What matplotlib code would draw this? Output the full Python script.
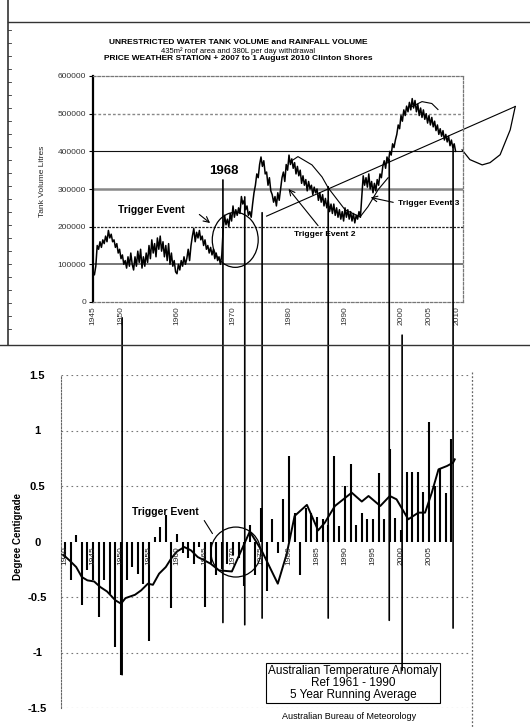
import numpy as np
import matplotlib.pyplot as plt
from matplotlib.patches import Ellipse, ConnectionPatch
from matplotlib.lines import Line2D

plt.rcParams['font.family'] = ['Liberation Sans', 'DejaVu Sans']

W, H = 530, 727

# tank volume in thousands of litres, four readings a year from 1945
tank_volume = [
    80, 72, 95, 150,     # 1945
    140, 160, 145, 165,
    155, 175, 160, 190,
    170, 180, 160, 165,
    145, 155, 130, 140,
    115, 125, 100, 110,  # 1950
    90, 120, 95, 130,
    100, 85, 120, 95,
    135, 105, 140, 90,
    120, 95, 130, 105,
    150, 115, 165, 130,  # 1955
    155, 120, 170, 140,
    175, 135, 160, 120,
    150, 110, 155, 100,
    130, 95, 110, 80,
    75, 100, 85, 110,    # 1960
    95, 120, 100, 115,
    140, 110, 150, 175,
    195, 160, 185, 170,
    190, 165, 175, 150,
    165, 140, 150, 130,  # 1965
    145, 125, 140, 115,
    130, 110, 120, 100,
    125, 195, 230, 205,
    220, 200, 235, 215,
    255, 225, 245, 230,  # 1970
    250, 235, 280, 260,
    270, 245, 255, 230,
    240, 225, 260, 290,
    310, 340, 330, 365,
    385, 360, 375, 340,  # 1975
    345, 310, 330, 295,
    285, 265, 280, 255,
    290, 270, 300, 330,
    345, 320, 365, 350,
    390, 365, 380, 355,  # 1980
    370, 340, 360, 335,
    350, 315, 335, 310,
    325, 295, 320, 300,
    310, 285, 305, 290,
    300, 270, 290, 265,  # 1985
    285, 255, 275, 250,
    270, 240, 260, 235,
    260, 230, 250, 225,
    245, 220, 240, 215,
    250, 225, 245, 220,  # 1990
    240, 215, 235, 210,
    230, 220, 240, 225,
    280, 335, 310, 330,
    305, 340, 300, 320,
    290, 315, 295, 325,  # 1995
    310, 340, 330, 360,
    375, 355, 385, 370,
    400, 390, 420, 410,
    430, 445, 470, 460,
    495, 480, 510, 495,  # 2000
    520, 505, 530, 510,
    540, 515, 535, 505,
    525, 495, 515, 490,
    510, 485, 500, 475,
    495, 470, 490, 465,  # 2005
    480, 455, 470, 445,
    460, 440, 455, 430,
    445, 425, 440, 415,
    430, 410, 420, 400,
]
tank_years = 1945 + np.arange(len(tank_volume)) * 0.25

# freehand curves sketched over the tank series (year, thousands of litres)
arc_top_years = [1980.2, 1981.6, 1984.1, 1985.9, 1987.0]
arc_top_vol = [372, 386, 364, 332, 303]
arc_low_years = [1987.0, 1990.0, 1992.7, 1994.1, 1995.9, 1997.7]
arc_low_vol = [303, 245, 226, 253, 298, 330]
arc_peak_years = [2002.0, 2003.75, 2005.5, 2006.6]
arc_peak_vol = [519, 532, 527, 511]
forecast_years = [2010.9, 2012.3, 2014.5, 2015.9, 2017.7, 2019.5, 2020.4]
forecast_vol = [404, 378, 364, 370, 391, 457, 519]
trend_years = [1976.0, 2020.4]
trend_vol = [228, 519]

top_xticks = [1945, 1950, 1960, 1970, 1980, 1990, 2000, 2005, 2010]

# annual temperature anomaly, degrees C, 1940-2009
anom_years = list(range(1940, 2010))
anomaly = [
    -0.15, -0.35, 0.06, -0.57, -0.26, -0.35, -0.68, -0.35, -0.47, -0.95,
    -1.20, -0.35, -0.23, -0.29, -0.38, -0.90, 0.04, 0.13, 0.24, -0.60,
    0.07, -0.10, -0.15, -0.20, -0.05, -0.59, -0.20, -0.30, -0.25, -0.20,
    -0.12, -0.15, -0.40, 0.15, -0.30, 0.30, -0.45, 0.20, -0.10, 0.38,
    0.77, 0.26, -0.30, 0.30, 0.26, 0.22, 0.20, 0.15, 0.77, 0.14,
    0.50, 0.70, 0.15, 0.26, 0.20, 0.20, 0.62, 0.20, 0.83, 0.21,
    0.10, 0.63, 0.63, 0.63, 0.45, 1.08, 0.50, 0.65, 0.44, 0.92,
]

# five year running average
avg_years = [1939.7, 1940.8, 1942, 1943, 1944, 1945.2, 1946.3, 1947.5, 1949,
             1950, 1950.8, 1952.5, 1953.6, 1954.8, 1955.7, 1956.8, 1958, 1959,
             1960, 1961.3, 1962.5, 1963.7, 1964.9, 1966, 1967.5, 1969.8, 1973,
             1975.1, 1978, 1979.6, 1981, 1983.2, 1985.2, 1986.4, 1988.2, 1991.2,
             1993, 1994.2, 1996.3, 1998, 1999.2, 2001.3, 2003.1, 2004.3, 2005.5,
             2006.7, 2008.2, 2009.3, 2009.6]
avg_anom = [-0.12, -0.17, -0.23, -0.32, -0.35, -0.36, -0.41, -0.45, -0.53,
            -0.56, -0.51, -0.48, -0.44, -0.38, -0.39, -0.29, -0.23, -0.15,
            -0.09, -0.05, -0.08, -0.14, -0.17, -0.20, -0.26, -0.27, 0.09,
            -0.08, -0.38, -0.11, 0.23, 0.33, 0.10, 0.17, 0.32, 0.44,
            0.36, 0.41, 0.32, 0.41, 0.38, 0.20, 0.26, 0.26, 0.44,
            0.65, 0.68, 0.71, 0.74]
bottom_label_years = list(range(1940, 2006, 5))

# lines tying events in the tank record to the temperature record
link_years = [1950.2, 1968.2, 1972.1, 1975.2, 1987.0, 1997.9, 2000.2, 2009.3]
link_tank = [-42, 324, 279, 237, 306, 378, -88, 412]
link_anom = [-1.20, -0.73, -0.75, -0.69, -0.69, -0.71, -1.16, -0.78]


def px_box(x0, x1, y0, y1):
    return [x0 / W, 1 - y1 / H, (x1 - x0) / W, (y1 - y0) / H]


def fig_line(xs, ys, **kw):
    fig.add_artist(Line2D([x / W for x in xs], [1 - y / H for y in ys],
                          transform=fig.transFigure, **kw))


fig = plt.figure(figsize=(W / 100, H / 100), dpi=100)

# ---- tank volume panel ----
ax1 = fig.add_axes(px_box(93, 463, 76, 302))
ax1.set_xlim(1945, 1945 + (463 - 93) / 5.6)
ax1.set_ylim(0, 600000)

grid_styles = {
    100000: dict(color='#777777', lw=1.4, ls='-'),
    200000: dict(color='#222222', lw=0.9, ls=(0, (2, 1))),
    300000: dict(color='#888888', lw=1.8, ls='-'),
    400000: dict(color='#111111', lw=0.8, ls='-'),
    500000: dict(color='#888888', lw=1.0, ls=(0, (2, 1.5))),
}
for yv, st in grid_styles.items():
    ax1.axhline(yv, zorder=1, **st)

ax1.plot(tank_years, np.array(tank_volume) * 1000, color='black', lw=1.1, zorder=3)
ax1.plot(arc_top_years, np.array(arc_top_vol) * 1000, color='black', lw=0.8)
ax1.plot(arc_low_years, np.array(arc_low_vol) * 1000, color='black', lw=0.8)
ax1.plot(arc_peak_years, np.array(arc_peak_vol) * 1000, color='black', lw=0.8)
ax1.plot(forecast_years, np.array(forecast_vol) * 1000, color='black', lw=0.9,
         clip_on=False)
ax1.plot(trend_years, np.array(trend_vol) * 1000, color='black', lw=0.8,
         clip_on=False)
ax1.add_patch(Ellipse((1970.4, 165000), 8.2, 146000, fill=False, lw=0.9,
                      color='black', zorder=4))

for side in ['top', 'right', 'bottom']:
    ax1.spines[side].set_linestyle((0, (2, 1.5)))
    ax1.spines[side].set_color('#777777')
    ax1.spines[side].set_linewidth(0.9)
ax1.spines['left'].set_linewidth(1.6)

ax1.set_yticks(range(0, 600001, 100000))
ax1.set_yticklabels([str(v) for v in range(0, 600001, 100000)],
                    fontsize=6, color='#333333')
ax1.set_xticks(top_xticks)
ax1.set_xticklabels([str(y) for y in top_xticks], rotation=90, fontsize=6,
                    color='#333333')
ax1.tick_params(axis='y', length=3, width=0.8, pad=2)
ax1.tick_params(axis='x', length=0, pad=3)

ax1.text(1955.4, 245000, 'Trigger Event', fontsize=7.5, fontweight='bold',
         ha='center', va='center')
ax1.annotate('', xy=(1966.3, 205000), xytext=(1963.6, 237000),
             arrowprops=dict(arrowstyle='->', lw=0.8, color='black'))
ax1.text(1968.4, 348000, '1968', fontsize=9.5, fontweight='bold',
         ha='center', va='center')
ax1.text(1986.3, 178000, 'Trigger Event 2', fontsize=6, fontweight='bold',
         ha='center', va='center')
ax1.annotate('', xy=(1979.6, 306000), xytext=(1985.5, 197000),
             arrowprops=dict(arrowstyle='->', lw=0.8, color='black'))
ax1.text(1999.5, 261000, 'Trigger Event 3', fontsize=6, fontweight='bold',
         ha='left', va='center')
ax1.annotate('', xy=(1994.1, 279000), xytext=(1999.1, 263000),
             arrowprops=dict(arrowstyle='->', lw=0.8, color='black'))

fig.text(238 / W, 1 - 43 / H,
         'UNRESTRICTED WATER TANK VOLUME and RAINFALL VOLUME',
         fontsize=6, fontweight='bold', ha='center', va='center')
fig.text(238 / W, 1 - 51 / H,
         '435m\u00b2 roof area and 380L per day withdrawal',
         fontsize=5.5, ha='center', va='center')
fig.text(238 / W, 1 - 59 / H,
         'PRICE WEATHER STATION + 2007 to 1 August 2010 Clinton Shores',
         fontsize=6, fontweight='bold', ha='center', va='center')
fig.text(43 / W, 1 - 181 / H, 'Tank Volume Litres', rotation=90, fontsize=6,
         ha='center', va='center', color='#222222')

# ---- temperature anomaly panel ----
ax2 = fig.add_axes(px_box(61, 470, 375, 708))
ax2.set_xlim(1945 + (61 - 93) / 5.6, 1945 + (470 - 93) / 5.6)
ax2.set_ylim(-1.5, 1.5)

for yv in [1.5, 1.0, 0.5, -0.5, -1.0, -1.5]:
    ax2.axhline(yv, color='#777777', lw=0.8, ls=(0, (1.5, 3)), zorder=1)

ax2.vlines(anom_years, 0, anomaly, color='black', lw=1.5, zorder=2)
ax2.plot(avg_years, avg_anom, color='black', lw=1.4, zorder=3)
ax2.add_patch(Ellipse((1970.5, -0.095), 8.9, 0.45, fill=False, lw=0.9,
                      color='black', zorder=4))

for yr in bottom_label_years:
    ax2.text(yr, -0.04, str(yr), rotation=90, fontsize=6, ha='center',
             va='top', color='#222222', zorder=5)

ax2.text(1957.9, 0.27, 'Trigger Event', fontsize=7.5, fontweight='bold',
         ha='center', va='center')
ax2.annotate('', xy=(1966.6, 0.05), xytext=(1964.6, 0.21),
             arrowprops=dict(arrowstyle='-', lw=0.8, color='black'))

ax2.text(1991.4, -1.275,
         'Australian Temperature Anomaly\nRef 1961 - 1990\n5 Year Running Average',
         fontsize=8.5, ha='center', va='center', linespacing=1.05, zorder=6,
         bbox=dict(boxstyle='square,pad=0.15', facecolor='white',
                   edgecolor='black', lw=0.8))
ax2.text(1990.7, -1.58, 'Australian Bureau of Meteorology', fontsize=6.5,
         ha='center', va='center', clip_on=False)

for side in ['top', 'right', 'bottom']:
    ax2.spines[side].set_visible(False)
ax2.spines['left'].set_linestyle((0, (1.5, 1.5)))
ax2.spines['left'].set_color('#666666')
ax2.set_xticks([])
ax2.set_yticks([1.5, 1, 0.5, 0, -0.5, -1, -1.5])
ax2.set_yticklabels(['1.5', '1', '0.5', '0', '-0.5', '-1', '-1.5'],
                    fontsize=8, fontweight='bold')
for lbl in ax2.get_yticklabels():
    lbl.set_horizontalalignment('center')
ax2.tick_params(axis='y', length=0, pad=17)
fig.text(18 / W, 1 - 536 / H, 'Degree Centigrade', rotation=90, fontsize=7,
         fontweight='bold', ha='center', va='center')

# event lines running from the tank panel down into the temperature panel
for yr, tv, av in zip(link_years, link_tank, link_anom):
    con = ConnectionPatch(xyA=(yr, tv * 1000), coordsA=ax1.transData,
                          xyB=(yr, av), coordsB=ax2.transData,
                          color='black', lw=1.2)
    fig.add_artist(con)

# page frame around the tank panel
fig_line([8, 530], [22, 22], color='#333333', lw=1.0)
fig_line([8, 8], [0, 345], color='#333333', lw=1.2)
fig_line([0, 530], [345, 345], color='#333333', lw=1.0)
for ty in np.arange(30, 340, 13):
    fig_line([8, 11], [ty, ty], color='#333333', lw=0.6)
fig_line([472, 472], [372, 727], color='#666666', lw=0.9, ls=(0, (1.5, 1.5)))

fig.savefig('out.png', dpi=100)
